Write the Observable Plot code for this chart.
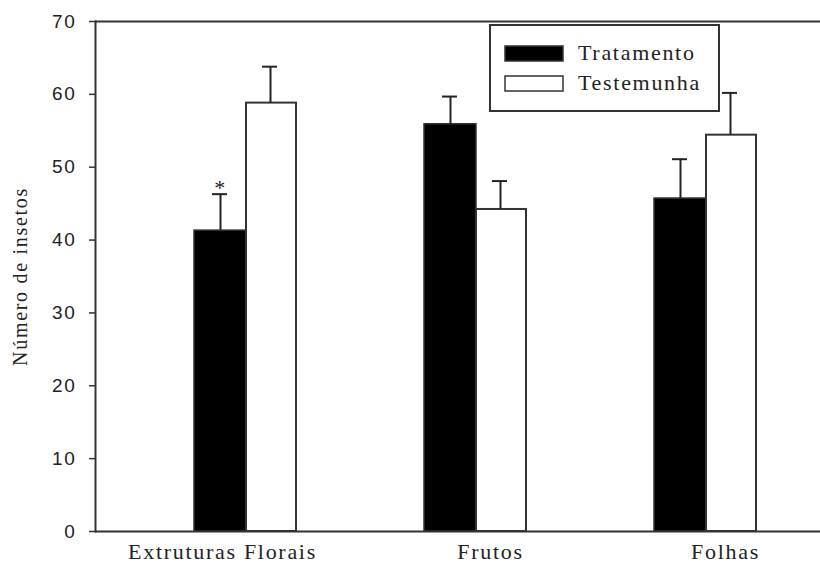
<!DOCTYPE html>
<html>
<head>
<meta charset="utf-8">
<script src="https://cdn.jsdelivr.net/npm/d3@7"></script>
<script src="https://cdn.jsdelivr.net/npm/@observablehq/plot@0.6"></script>
<style>
  body { margin: 0; background: #fff; }
  #wrap { position: relative; width: 820px; height: 568px; }
  #wrap svg text { letter-spacing: 1.7px; }
  #legend { position: absolute; left: 0; top: 0; pointer-events: none; }
</style>
</head>
<body>
<div id="wrap"></div>
<script>
// ---- data ----
const categories = ["Extruturas Florais", "Frutos", "Folhas"];
const seriesNames = ["Tratamento", "Testemunha"];
const tratamento = [41.3, 55.9, 45.7];
const tratamentoErr = [5.0, 3.8, 5.4];
const testemunha = [58.8, 44.2, 54.4];
const testemunhaErr = [5.0, 3.9, 5.8];
const yTicks = [0, 10, 20, 30, 40, 50, 60, 70];
const yLabel = "Número de insetos";
const marked = [{category: "Extruturas Florais", series: "Tratamento", label: "*"}];

const rows = categories.flatMap((c, i) => [
  {category: c, series: seriesNames[0], value: tratamento[i], err: tratamentoErr[i]},
  {category: c, series: seriesNames[1], value: testemunha[i], err: testemunhaErr[i]}
]);
const trat = rows.filter(d => d.series === seriesNames[0]);
const test = rows.filter(d => d.series === seriesNames[1]);
const stars = marked.map(m => {
  const r = rows.find(d => d.category === m.category && d.series === m.series);
  return {...r, label: m.label};
});

const axisColor = "#333";
const serif = "Liberation Serif";

const xLabelShift = {"Extruturas Florais": -24, "Frutos": 14, "Folhas": 19};

const plot = Plot.plot({
  width: 820,
  height: 568,
  marginLeft: 95,
  marginRight: 0,
  marginTop: 21,
  marginBottom: 37,
  style: {fontFamily: serif, fontSize: "22px", color: "#222", background: "#fff"},
  x: {domain: categories, range: [131, 821], padding: 0, axis: null},
  y: {domain: [0, 70], axis: null},
  marks: [
    Plot.frame({anchor: "left", stroke: axisColor, strokeWidth: 2}),
    Plot.ruleY([0, 70], {stroke: axisColor, strokeWidth: 2}),
    Plot.axisY({ticks: yTicks, tickSize: 6, tickPadding: 13, fontFamily: "Liberation Sans", fontSize: 19,
      stroke: axisColor, strokeWidth: 1.5, label: null}),
    ...categories.map(c => Plot.axisX({ticks: [c], tickSize: 0, tickPadding: 12, fontFamily: serif,
      fontSize: 22, label: null, dx: xLabelShift[c]})),
    Plot.text([yLabel], {frameAnchor: "left", textAnchor: "middle", rotate: -90, dx: -75,
      fontFamily: serif, fontSize: 20, fill: "#222"}),
    Plot.barY(trat, {x: "category", y: "value", fill: "#000", stroke: axisColor, strokeWidth: 1.5,
      insetLeft: 63, insetRight: 115}),
    Plot.barY(test, {x: "category", y: "value", fill: "#fff", stroke: axisColor, strokeWidth: 2,
      insetLeft: 115, insetRight: 65}),
    Plot.ruleX(trat, {x: "category", y1: "value", y2: d => d.value + d.err, dx: -26, stroke: "#222", strokeWidth: 2}),
    Plot.ruleX(test, {x: "category", y1: "value", y2: d => d.value + d.err, dx: 24, stroke: "#222", strokeWidth: 2}),
    Plot.tickY(trat, {x: "category", y: d => d.value + d.err, insetLeft: 81, insetRight: 134, stroke: "#222", strokeWidth: 2}),
    Plot.tickY(test, {x: "category", y: d => d.value + d.err, insetLeft: 131, insetRight: 84, stroke: "#222", strokeWidth: 2}),
    Plot.text(stars, {x: "category", y: d => d.value + d.err, text: "label", dx: -26, dy: -6,
      fontFamily: serif, fontSize: 22, fill: "#222"})
  ]
});
document.getElementById("wrap").appendChild(plot);

// ---- legend (overlay) ----
const lg = d3.select("#wrap").append("svg").attr("id", "legend").attr("width", 820).attr("height", 568);
lg.append("rect").attr("x", 490).attr("y", 25).attr("width", 229).attr("height", 86)
  .attr("fill", "#fff").attr("stroke", axisColor).attr("stroke-width", 2);
const fills = ["#000", "#fff"];
seriesNames.forEach((s, i) => {
  const yTop = 46 + i * 30;
  lg.append("rect").attr("x", 505).attr("y", yTop).attr("width", 58).attr("height", 15)
    .attr("fill", fills[i]).attr("stroke", axisColor).attr("stroke-width", 1.5);
  lg.append("text").attr("x", 578).attr("y", yTop + 14).text(s)
    .attr("font-family", serif).attr("font-size", 22).attr("fill", "#222");
});
</script>
</body>
</html>
